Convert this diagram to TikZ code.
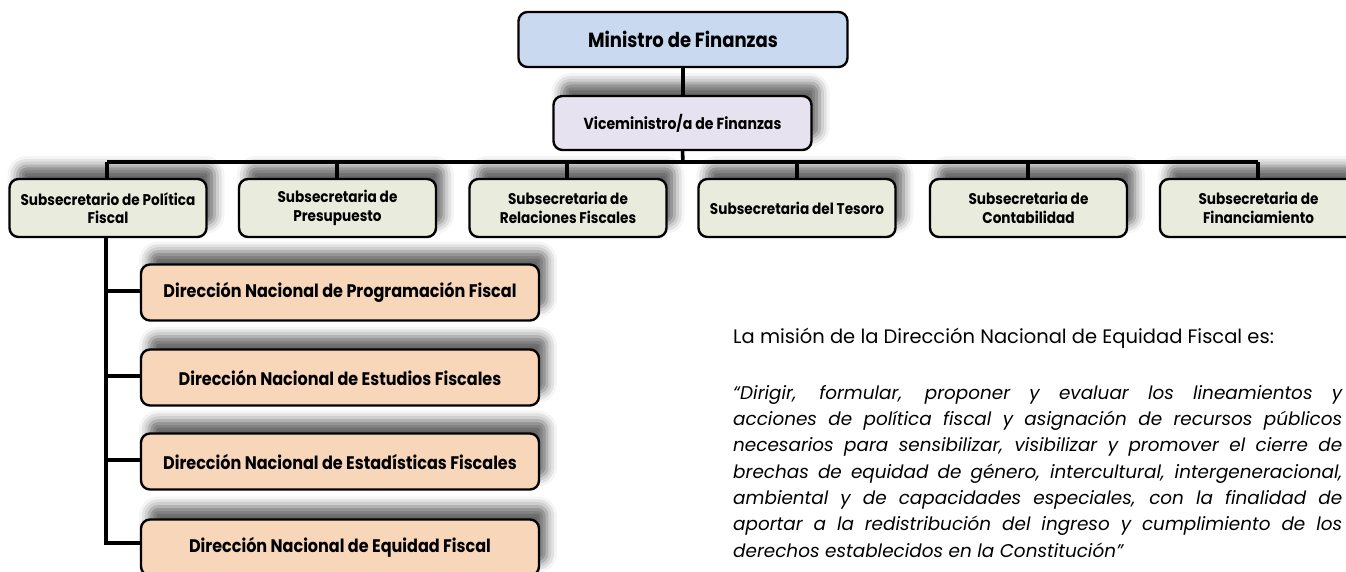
\documentclass[tikz,border=0pt]{standalone}
\usepackage{fontspec}
\setmainfont{Poppins}
\newfontfamily\boxfont[FakeStretch=0.88]{Poppins}
\newfontfamily\missfont{Poppins}
\usetikzlibrary{shadows.blur}
\definecolor{minfill}{RGB}{201,218,240}
\definecolor{vicefill}{RGB}{231,226,239}
\definecolor{subfill}{RGB}{233,235,220}
\definecolor{dirfill}{RGB}{248,214,186}
\tikzset{
  orgbox/.style={draw=black, line width=2.4pt, rounded corners=9pt, align=center, inner sep=2pt},
  shad/.style={blur shadow={shadow xshift=8pt, shadow yshift=13pt, shadow blur radius=10pt, shadow opacity=60}},
  minbox/.style={orgbox, fill=minfill, minimum width=329pt, minimum height=55pt, font=\boxfont\bfseries\fontsize{20.5}{24}\selectfont},
  vicebox/.style={orgbox, shad, fill=vicefill, minimum width=258pt, minimum height=54pt, font=\boxfont\bfseries\fontsize{16}{19}\selectfont},
  subbox/.style={orgbox, shad, fill=subfill, minimum width=197pt, minimum height=58pt, font=\boxfont\bfseries\fontsize{15.5}{18.5}\selectfont},
  dirbox/.style={orgbox, shad, fill=dirfill, minimum width=398pt, minimum height=56pt, font=\boxfont\bfseries\fontsize{18.2}{21}\selectfont},
  conn/.style={draw=black, line width=3.6pt},
}
\begin{document}
\begin{tikzpicture}[x=1pt, y=-1pt]
\useasboundingbox (0,0) rectangle (1346,572);
\begin{scope}
\clip (0,0) rectangle (1346,572);
\coordinate (busL) at (107,162);
\coordinate (busR) at (1258,162);
\coordinate (busV) at (683,162);
\coordinate (leftT) at (106,237);
\coordinate (leftB) at (106,544.8);
\coordinate (b1) at (106,291);
\coordinate (b2) at (106,376);
\coordinate (b3) at (106,460);
\coordinate (b4) at (104.2,543);

\node[minbox] (min) at (683,39.5) {Ministro de Finanzas};
\draw[conn] (min.south) -- (683,97);
\node[vicebox] (vice) at (682.5,123) {Viceministro/a de Finanzas};
\draw[conn] (vice.south) -- (busV);
\draw[conn] (busL) -- (busR);
\foreach \x in {107, 337, 567, 797, 1028, 1258}{
  \draw[conn] (\x,162) -- (\x,181);
}
\node[subbox] (s1) at (108,208) {Subsecretario de Política\\Fiscal};
\node[subbox] (s2) at (337.5,208) {Subsecretaria de\\Presupuesto};
\node[subbox] (s3) at (568,208) {Subsecretaria de\\Relaciones Fiscales};
\node[subbox] (s4) at (797,208) {Subsecretaria del Tesoro};
\node[subbox] (s5) at (1028.5,208) {Subsecretaria de\\Contabilidad};
\node[subbox] (s6) at (1258.5,208) {Subsecretaria de\\Financiamiento};

\node[dirbox] (d1) at (340,292.5) {Dirección Nacional de Programación Fiscal};
\node[dirbox] (d2) at (340,377.5) {Dirección Nacional de Estudios Fiscales};
\node[dirbox] (d3) at (340,461.5) {Dirección Nacional de Estadísticas Fiscales};
\node[dirbox] (d4) at (340,547.5) {Dirección Nacional de Equidad Fiscal};

\draw[conn] (leftT) -- (leftB);
\draw[conn] (b1) -- (b1 -| d1.west);
\draw[conn] (b2) -- (b2 -| d2.west);
\draw[conn] (b3) -- (b3 -| d3.west);
\draw[conn] (b4) -- (b4 -| d4.west);

\node[anchor=base west, inner sep=0pt, font=\missfont\fontsize{19.5}{23}\selectfont] (intro) at (733,343)
  {La misión de la Dirección Nacional de Equidad Fiscal es:};
\node[anchor=north west, inner sep=0pt, text width=609pt, align=justify,
      font=\missfont\itshape\fontsize{18.4}{26.3}\selectfont] (mission) at (733,385)
  {“Dirigir, formular, proponer y evaluar los lineamientos y\linebreak
   acciones de política fiscal y asignación de recursos públicos\linebreak
   necesarios para sensibilizar, visibilizar y promover el cierre de\linebreak
   brechas de equidad de género, intercultural, intergeneracional,\linebreak
   ambiental y de capacidades especiales, con la finalidad de\linebreak
   aportar a la redistribución del ingreso y cumplimiento de los\linebreak
   derechos establecidos en la Constitución”};
\end{scope}
\end{tikzpicture}
\end{document}
